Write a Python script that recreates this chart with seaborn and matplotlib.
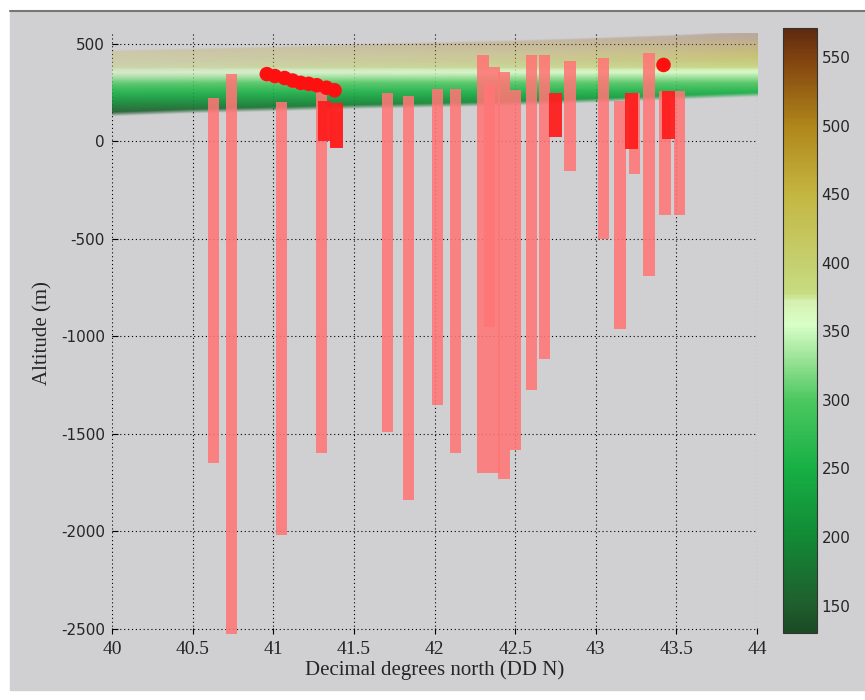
import numpy as np
import pandas as pd
import seaborn as sns
import matplotlib.pyplot as plt
from matplotlib.colors import LinearSegmentedColormap, Normalize
from matplotlib.patches import Rectangle
from matplotlib.lines import Line2D

# wells: latitude, wellhead altitude, bottom altitude (m)
well_lat = [40.63, 40.74, 41.05, 41.30, 41.39, 41.71, 41.84, 42.02, 42.13,
            42.30, 42.34, 42.37, 42.43, 42.50, 42.60, 42.68, 42.84,
            43.05, 43.15, 43.24, 43.33, 43.43, 43.52]
well_top = [220, 345, 200, 270, 150, 248, 235, 268, 268,
            444, 300, 380, 356, 264, 444, 444, 410,
            428, 207, 250, 453, 258, 258]
well_bottom = [-1650, -2530, -2020, -1600, -30, -1490, -1840, -1350, -1600,
               -1700, -950, -1700, -1730, -1580, -1277, -1118, -150,
               -500, -960, -165, -692, -375, -375]

# highlighted (red) well sections
red_lat = [41.32, 41.39, 42.75, 43.22, 43.45]
red_top = [205, 195, 249, 248, 258]
red_bottom = [0, -35, 23, -40, 12]

# red markers near the surface
blob_lat = [40.96, 41.01, 41.07, 41.12, 41.17, 41.22, 41.27, 41.33, 41.38, 43.42]
blob_alt = [345, 335, 325, 312, 300, 295, 288, 275, 262, 392]

# terrain envelope seen from the side
surf_lat = [40.0, 40.5, 41.0, 41.5, 42.0, 42.5, 43.0, 43.5, 44.0]
surf_low = [135, 150, 160, 172, 180, 190, 205, 220, 235]
surf_high = [460, 470, 480, 492, 502, 512, 525, 540, 560]

x_ticks = [40, 40.5, 41, 41.5, 42, 42.5, 43, 43.5, 44]
y_ticks = [-2500, -2000, -1500, -1000, -500, 0, 500]
cbar_ticks = [150, 200, 250, 300, 350, 400, 450, 500, 550]
cmin, cmax = 130, 571

bg = "#d0d0d2"

cmap = LinearSegmentedColormap.from_list("dem", [
    (0.000, "#1a4a25"), (0.045, "#1f5e2e"), (0.159, "#128a35"),
    (0.272, "#17b045"), (0.385, "#4cc860"), (0.465, "#a8e8a0"),
    (0.510, "#d8ffc8"), (0.549, "#d5f0b0"), (0.562, "#c8dc80"),
    (0.612, "#c5d070"), (0.726, "#c4b640"), (0.839, "#b0861a"),
    (0.952, "#80420f"), (1.000, "#5e2a10")])
norm = Normalize(cmin, cmax)

sns.set_style("white")
plt.rcParams["font.family"] = ["DejaVu Sans"]

fig = plt.figure(figsize=(8.65, 7), dpi=100, facecolor="white")
fig.patches.append(Rectangle((10 / 865, 10 / 700), 1, 1 - 22 / 700,
                             transform=fig.transFigure, color=bg, zorder=-1))
fig.add_artist(Line2D([10 / 865, 1], [1 - 11 / 700] * 2, color="#777777", lw=1.5))

ax = fig.add_axes([0.1295, 0.0943, 0.7457, 0.8586])
ax.set_facecolor(bg)

# terrain surface: coloured by altitude, fading toward the top of the envelope
lat_g = np.linspace(40, 44, 401)
alt_g = np.linspace(100, 600, 501)
LAT, ALT = np.meshgrid(lat_g, alt_g)
low = np.interp(LAT, surf_lat, surf_low)
high = np.interp(LAT, surf_lat, surf_high)
frac = (ALT - low) / (high - low)
rgba = cmap(norm(ALT))
alpha = np.interp(frac, [-0.02, 0.05, 0.45, 0.6, 0.8, 1.0, 1.03],
                  [0, 0.92, 0.88, 0.7, 0.4, 0.25, 0])
rgba[..., 3] = alpha
ax.imshow(rgba, extent=[40, 44, 100, 600], origin="lower", aspect="auto",
          interpolation="bilinear", zorder=1)

wells = pd.DataFrame({"lat": well_lat, "top": well_top, "bottom": well_bottom})
ax.bar(wells["lat"], wells["top"] - wells["bottom"], bottom=wells["bottom"],
       width=0.07, color="#ff7676", alpha=0.88, linewidth=0, zorder=3)

reds = pd.DataFrame({"lat": red_lat, "top": red_top, "bottom": red_bottom})
ax.bar(reds["lat"], reds["top"] - reds["bottom"], bottom=reds["bottom"],
       width=0.08, color="#ff1e1e", alpha=0.95, linewidth=0, zorder=3.5)

sns.scatterplot(x=blob_lat, y=blob_alt, s=110, color="#ff1010",
                edgecolor="none", ax=ax, zorder=4)

ax.set_xlim(40, 44)
ax.set_ylim(-2526, 556)
ax.set_xticks(x_ticks)
ax.set_xticklabels([f"{t:g}" for t in x_ticks], fontfamily="Liberation Serif", fontsize=14)
ax.set_yticks(y_ticks)
ax.set_yticklabels([str(t) for t in y_ticks], fontsize=11)
ax.grid(True, color="black", linestyle=(0, (1, 2.5)), linewidth=0.8)
for s in ax.spines.values():
    s.set_visible(False)
ax.tick_params(direction="in", length=4, color="black", left=True, bottom=True,
               pad=5)
ax.set_xlabel("Decimal degrees north (DD N)", fontfamily="Liberation Serif",
              fontsize=15, labelpad=2)
ax.set_ylabel("Altitude (m)", fontfamily="Liberation Serif", fontsize=15,
              labelpad=6)

cax = fig.add_axes([0.905, 0.0957, 0.0393, 0.864])
sm = plt.cm.ScalarMappable(norm=norm, cmap=cmap)
cb = fig.colorbar(sm, cax=cax, ticks=cbar_ticks)
cb.outline.set_linewidth(0.8)
cb.outline.set_edgecolor("#333333")
cax.tick_params(direction="in", length=4, labelsize=11, left=True, right=True,
                color="#333333")

fig.savefig("out.png", dpi=100, facecolor="white")
